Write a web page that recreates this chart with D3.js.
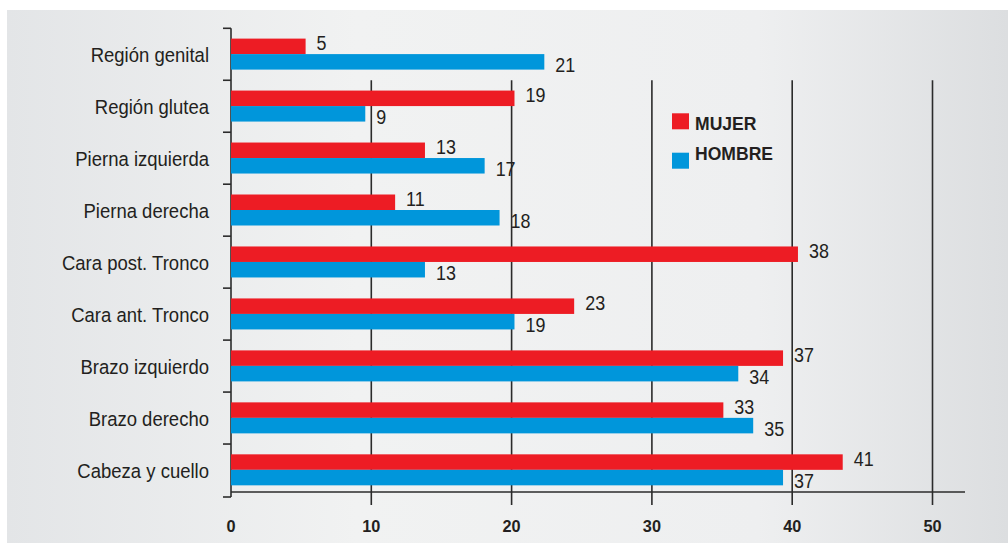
<!DOCTYPE html>
<html><head><meta charset="utf-8">
<script src="https://cdn.jsdelivr.net/npm/d3@7"></script>
<style>
html,body{margin:0;padding:0;background:#fff;}
svg{display:block;font-family:"Liberation Sans",Arial,sans-serif;}
</style></head>
<body><svg id="c" width="1008" height="543"></svg>
<script>
const categories = ["Región genital","Región glutea","Pierna izquierda","Pierna derecha","Cara post. Tronco","Cara ant. Tronco","Brazo izquierdo","Brazo derecho","Cabeza y cuello"];
const series = ["MUJER","HOMBRE"];
const mujer  = [5,19,13,11,38,23,37,33,41];
const hombre = [21,9,17,18,13,19,34,35,37];
const xTicks = [0,10,20,30,40,50];
const colors = ["#ed1c24","#0096db"];

const svg = d3.select("#c");
const defs = svg.append("defs");
const g = defs.append("linearGradient").attr("id","bg").attr("x1","0").attr("x2","1").attr("y1","0").attr("y2","0");
g.append("stop").attr("offset","0").attr("stop-color","#e3e5e7");
g.append("stop").attr("offset","0.35").attr("stop-color","#f1f2f2");
g.append("stop").attr("offset","0.75").attr("stop-color","#eeeff0");
g.append("stop").attr("offset","1").attr("stop-color","#dcdee0");
svg.append("rect").attr("x",7).attr("y",10).attr("width",1001).attr("height",533).attr("fill","url(#bg)");

const x = d3.scaleLinear().domain([0,50]).range([231,932.5]);
// bars in the reference are drawn on a slightly longer scale than the axis
const xBar = d3.scaleLinear().domain([0,50]).range([231,977]);
const y = d3.scaleBand().domain(categories).range([28.3,496]).padding(0);
const ySub = d3.scaleBand().domain(series).range([10.3,41.3]).padding(0);
const ink = "#231f20";

// gridlines
svg.append("g").selectAll("line").data(xTicks.filter(d=>d>0)).join("line")
  .attr("x1",d=>x(d)).attr("x2",d=>x(d))
  .attr("y1",y(categories[1])).attr("y2",505)
  .attr("stroke","#2b2b2b").attr("stroke-width",1.6);

// x axis line
svg.append("line").attr("x1",231).attr("x2",965).attr("y1",492).attr("y2",492)
  .attr("stroke","#2b2b2b").attr("stroke-width",1.6);

// y axis
const yTickPos = categories.map(c=>y(c)).concat([497]);
svg.append("line").attr("x1",231).attr("x2",231).attr("y1",y.range()[0]).attr("y2",497)
  .attr("stroke","#2b2b2b").attr("stroke-width",1.6);
svg.append("g").selectAll("line").data(yTickPos).join("line")
  .attr("x1",223).attr("x2",231).attr("y1",d=>d).attr("y2",d=>d)
  .attr("stroke","#2b2b2b").attr("stroke-width",1.6);

// x tick labels
svg.append("g").selectAll("text").data(xTicks).join("text")
  .attr("x",d=>x(d)).attr("y",532).attr("text-anchor","middle")
  .attr("font-size",16.3).attr("font-weight","bold").attr("fill",ink).text(d=>d);

// category labels
svg.append("g").selectAll("text").data(categories).join("text")
  .attr("transform",d=>`translate(209,${y(d)+y.bandwidth()/2+8}) scale(0.95,1)`)
  .attr("text-anchor","end")
  .attr("font-size",19.5).attr("fill",ink).text(d=>d);

// bars
const data = [mujer,hombre];
series.forEach((s,si)=>{
  const vals = data[si];
  svg.append("g").selectAll("rect").data(vals).join("rect")
    .attr("x",xBar(0)).attr("y",(d,i)=>y(categories[i])+ySub(s))
    .attr("width",d=>xBar(d)-xBar(0)).attr("height",ySub.bandwidth())
    .attr("fill",colors[si]);
  svg.append("g").selectAll("text").data(vals).join("text")
    .attr("transform",(d,i)=>`translate(${xBar(d)+11},${y(categories[i])+ySub(s)+ySub.bandwidth()/2+(si===0?-3:3)+7}) scale(0.92,1)`)
    .attr("font-size",19.5).attr("fill",ink).text(d=>d);
});

// legend
const leg = svg.append("g");
series.forEach((s,i)=>{
  leg.append("rect").attr("x",672).attr("y",113.3+i*39.4).attr("width",17).attr("height",16).attr("fill",colors[i]);
  leg.append("text").attr("transform",`translate(695,${130+i*30}) scale(0.95,1)`)
    .attr("font-size",18.5).attr("font-weight","bold").attr("fill",ink).text(s);
});
</script></body></html>
